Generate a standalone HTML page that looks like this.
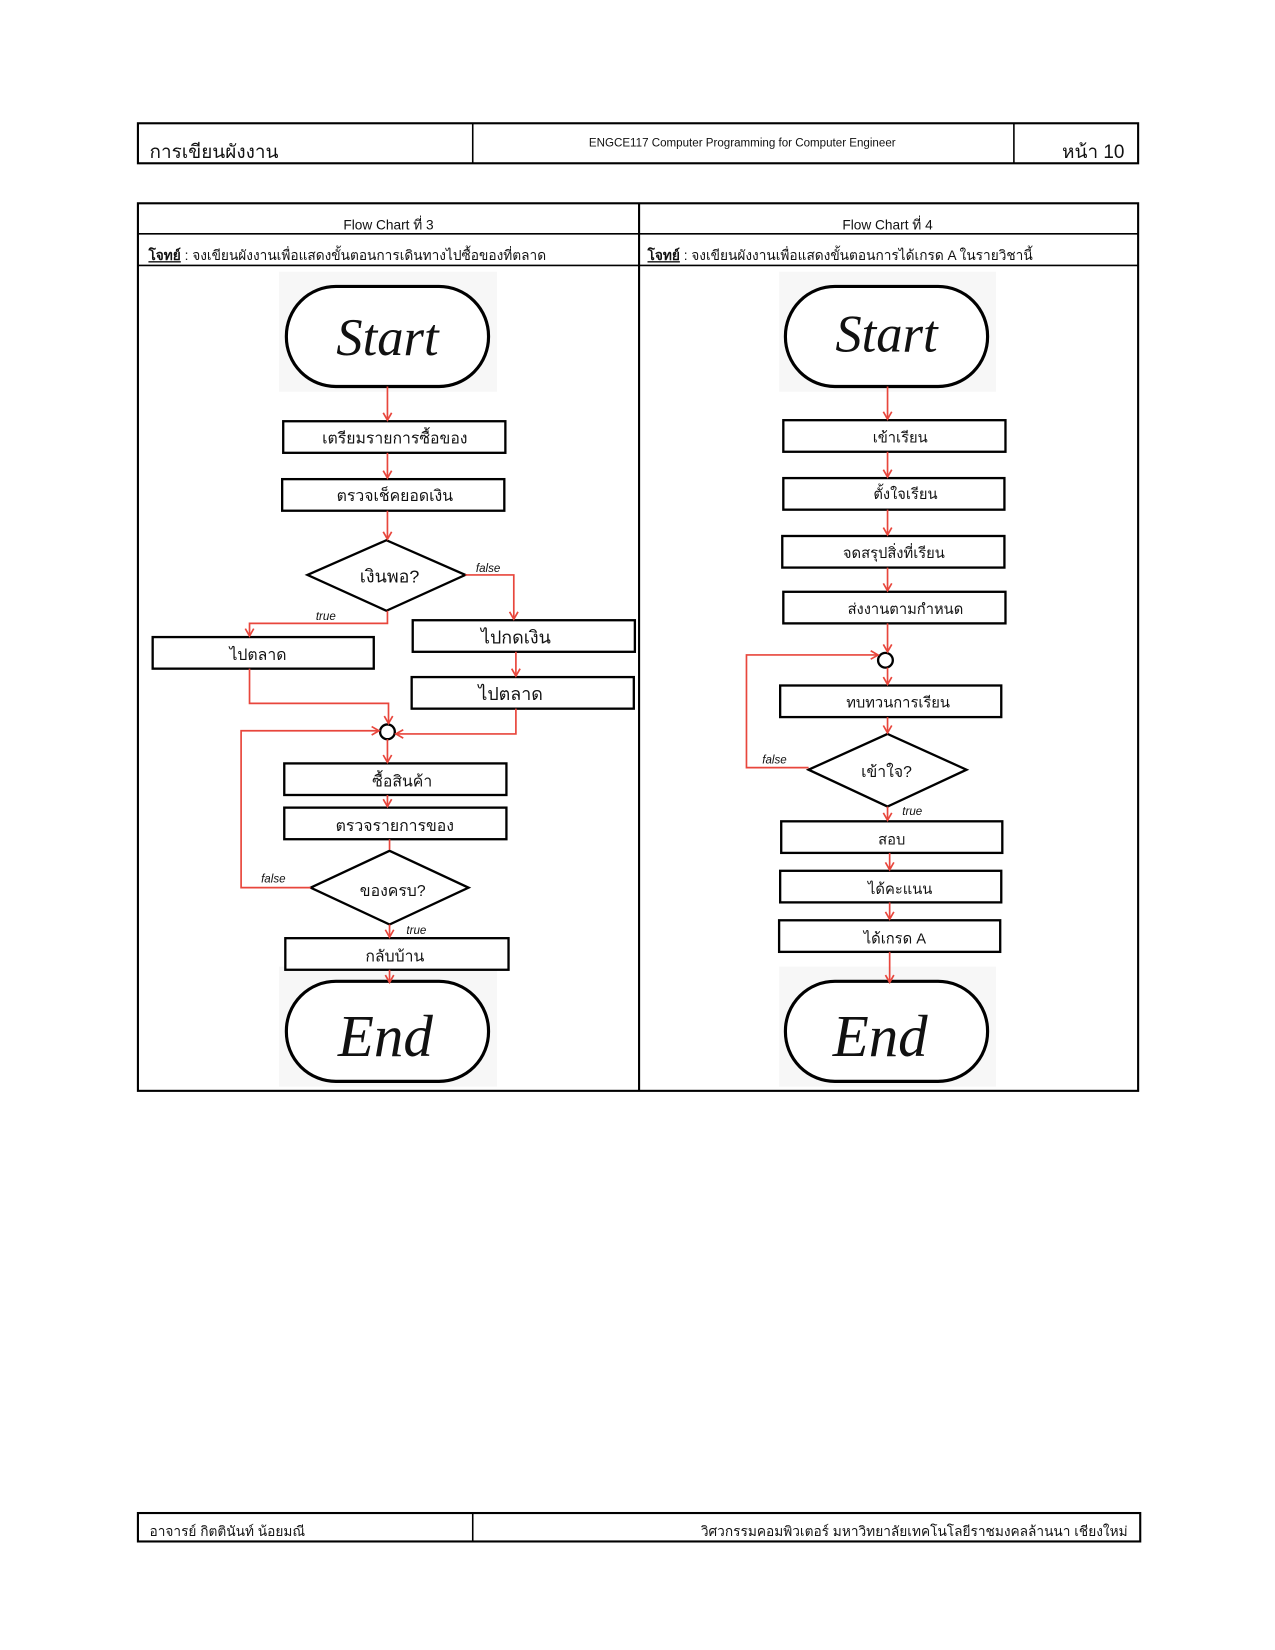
<!DOCTYPE html>
<html><head><meta charset="utf-8"><style>
html,body{margin:0;padding:0;background:#fff;}
svg{display:block;}
text{font-family:"Liberation Sans","Noto Sans CJK SC",sans-serif;fill:#111;}
.th{font-family:"Liberation Sans","Noto Sans CJK SC","WenQuanYi Zen Hei",sans-serif;}
.hw{font-family:"Liberation Serif",serif;font-style:italic;}
</style></head><body>
<svg width="1275" height="1650" viewBox="0 0 1211 1567" xmlns="http://www.w3.org/2000/svg">
<defs>
<marker id="a" markerWidth="10" markerHeight="10" refX="8" refY="5" orient="auto" markerUnits="userSpaceOnUse">
<path d="M1,1 L8,5 L1,9" fill="none" stroke="#e8463c" stroke-width="1.6"/></marker>
</defs>
<!-- header -->
<rect x="131" y="117" width="950" height="38" fill="none" stroke="#000" stroke-width="2"/>
<line x1="449" y1="117" x2="449" y2="155" stroke="#000" stroke-width="1.5"/>
<line x1="963" y1="117" x2="963" y2="155" stroke="#000" stroke-width="1.5"/>
<text x="142" y="150" font-size="18" class="th">การเขียนผังงาน</text>
<text x="705" y="139" font-size="11" text-anchor="middle">ENGCE117 Computer Programming for Computer Engineer</text>
<text x="1068" y="150" font-size="18" text-anchor="end" class="th">หน้า 10</text>
<!-- table -->
<rect x="131" y="193" width="950" height="843" fill="none" stroke="#000" stroke-width="2"/>
<line x1="607" y1="193" x2="607" y2="1036" stroke="#000" stroke-width="2"/>
<line x1="131" y1="222" x2="1081" y2="222" stroke="#000" stroke-width="1.5"/>
<line x1="131" y1="252" x2="1081" y2="252" stroke="#000" stroke-width="1.5"/>
<text x="369" y="218" font-size="13" text-anchor="middle" class="th">Flow Chart ที่ 3</text>
<text x="843" y="218" font-size="13" text-anchor="middle" class="th">Flow Chart ที่ 4</text>
<text x="141" y="247" font-size="13" class="th"><tspan font-weight="bold" text-decoration="underline">โจทย์</tspan> : จงเขียนผังงานเพื่อแสดงขั้นตอนการเดินทางไปซื้อของที่ตลาด</text>
<text x="615" y="247" font-size="13" class="th"><tspan font-weight="bold" text-decoration="underline">โจทย์</tspan> : จงเขียนผังงานเพื่อแสดงขั้นตอนการได้เกรด A ในรายวิชานี้</text>

<!-- chart 3 -->
<g stroke="#000" stroke-width="2.2" fill="#fff">
<rect x="265" y="258" width="207" height="114" fill="#f7f7f7" stroke="none"/>
<rect x="272" y="272" width="192" height="95" rx="47" stroke-width="3"/>
<rect x="265" y="918" width="207" height="114" fill="#f7f7f7" stroke="none"/>
<rect x="272" y="932" width="192" height="95" rx="47" stroke-width="3"/>
<rect x="269" y="400" width="211" height="30"/>
<rect x="268" y="455" width="211" height="30"/>
<polygon points="292,546 367,513 442,546 367,580"/>
<rect x="145" y="605" width="210" height="30"/>
<rect x="392" y="589" width="211" height="30"/>
<rect x="391" y="643" width="211" height="30"/>
<circle cx="368" cy="695" r="7"/>
<rect x="270" y="725" width="211" height="30"/>
<rect x="270" y="767" width="211" height="30"/>
<polygon points="295,843 370,808 445,843 370,878"/>
<rect x="271" y="891" width="212" height="30"/>
</g>
<g stroke="#e8463c" stroke-width="1.6" fill="none">
<line x1="368" y1="367" x2="368" y2="399" marker-end="url(#a)"/>
<line x1="368" y1="430" x2="368" y2="454" marker-end="url(#a)"/>
<line x1="368" y1="485" x2="368" y2="512" marker-end="url(#a)"/>
<polyline points="368,580 368,592 237,592 237,604" marker-end="url(#a)"/>
<polyline points="442,546 488,546 488,588" marker-end="url(#a)"/>
<line x1="490" y1="619" x2="490" y2="642" marker-end="url(#a)"/>
<polyline points="237,635 237,668 369,668 369,687" marker-end="url(#a)"/>
<polyline points="490,673 490,697 376,697" marker-end="url(#a)"/>
<polyline points="295,843 229,843 229,694 360,694" marker-end="url(#a)"/>
<line x1="368" y1="702" x2="368" y2="724" marker-end="url(#a)"/>
<line x1="368" y1="755" x2="368" y2="766" marker-end="url(#a)"/>
<line x1="370" y1="797" x2="370" y2="807"/>
<line x1="370" y1="878" x2="370" y2="890" marker-end="url(#a)"/>
<line x1="370" y1="921" x2="370" y2="933" marker-end="url(#a)"/>
</g>
<g class="th" font-size="15" text-anchor="middle">
<text x="375" y="421">เตรียมรายการซื้อของ</text>
<text x="375" y="476">ตรวจเช็คยอดเงิน</text>
<text x="370" y="553" font-size="17">เงินพอ?</text>
<text x="245" y="627">ไปตลาด</text>
<text x="490" y="611" font-size="17">ไปกดเงิน</text>
<text x="485" y="665" font-size="17">ไปตลาด</text>
<text x="382" y="747">ซื้อสินค้า</text>
<text x="375" y="789">ตรวจรายการของ</text>
<text x="373" y="851">ของครบ?</text>
<text x="375" y="913">กลับบ้าน</text>
</g>
<g class="hw" font-size="11"><text x="452" y="543">false</text><text x="300" y="589">true</text><text x="248" y="838">false</text><text x="386" y="887">true</text></g>
<text x="368" y="337" font-size="50" class="hw" text-anchor="middle">Start</text>
<text x="366" y="1003" font-size="56" class="hw" text-anchor="middle">End</text>

<!-- chart 4 -->
<g stroke="#000" stroke-width="2.2" fill="#fff">
<rect x="740" y="258" width="206" height="114" fill="#f7f7f7" stroke="none"/>
<rect x="746" y="272" width="192" height="95" rx="47" stroke-width="3"/>
<rect x="740" y="918" width="206" height="114" fill="#f7f7f7" stroke="none"/>
<rect x="746" y="932" width="192" height="95" rx="47" stroke-width="3"/>
<rect x="744" y="399" width="211" height="30"/>
<rect x="744" y="454" width="210" height="30"/>
<rect x="743" y="509" width="211" height="30"/>
<rect x="744" y="562" width="211" height="30"/>
<circle cx="841" cy="627" r="7"/>
<rect x="741" y="651" width="210" height="30"/>
<polygon points="768,731 843,697 918,731 843,766"/>
<rect x="742" y="780" width="210" height="30"/>
<rect x="741" y="827" width="210" height="30"/>
<rect x="740" y="874" width="210" height="30"/>
</g>
<g stroke="#e8463c" stroke-width="1.6" fill="none">
<line x1="843" y1="367" x2="843" y2="398" marker-end="url(#a)"/>
<line x1="843" y1="429" x2="843" y2="453" marker-end="url(#a)"/>
<line x1="843" y1="484" x2="843" y2="508" marker-end="url(#a)"/>
<line x1="843" y1="539" x2="843" y2="561" marker-end="url(#a)"/>
<line x1="843" y1="592" x2="843" y2="619" marker-end="url(#a)"/>
<polyline points="768,729 709,729 709,622 834,622" marker-end="url(#a)"/>
<line x1="843" y1="634" x2="843" y2="650" marker-end="url(#a)"/>
<line x1="843" y1="681" x2="843" y2="696" marker-end="url(#a)"/>
<line x1="843" y1="766" x2="843" y2="779" marker-end="url(#a)"/>
<line x1="845" y1="810" x2="845" y2="826" marker-end="url(#a)"/>
<line x1="845" y1="857" x2="845" y2="873" marker-end="url(#a)"/>
<line x1="845" y1="904" x2="845" y2="933" marker-end="url(#a)"/>
</g>
<g class="th" font-size="14" text-anchor="middle">
<text x="855" y="420">เข้าเรียน</text>
<text x="860" y="474">ตั้งใจเรียน</text>
<text x="849" y="530">จดสรุปสิ่งที่เรียน</text>
<text x="860" y="583">ส่งงานตามกำหนด</text>
<text x="853" y="672">ทบทวนการเรียน</text>
<text x="842" y="738" font-size="15">เข้าใจ?</text>
<text x="847" y="802">สอบ</text>
<text x="855" y="849">ได้คะแนน</text>
<text x="850" y="896">ได้เกรด A</text>
</g>
<g class="hw" font-size="11"><text x="724" y="725">false</text><text x="857" y="774">true</text></g>
<text x="842" y="334" font-size="50" class="hw" text-anchor="middle">Start</text>
<text x="836" y="1003" font-size="56" class="hw" text-anchor="middle">End</text>

<!-- footer -->
<rect x="131" y="1437" width="952" height="27" fill="none" stroke="#000" stroke-width="2"/>
<line x1="449" y1="1437" x2="449" y2="1464" stroke="#000" stroke-width="1.5"/>
<text x="142" y="1459" font-size="13" class="th">อาจารย์ กิตตินันท์ น้อยมณี</text>
<text x="1071" y="1459" font-size="13" text-anchor="end" class="th">วิศวกรรมคอมพิวเตอร์ มหาวิทยาลัยเทคโนโลยีราชมงคลล้านนา เชียงใหม่</text>
</svg>
</body></html>
